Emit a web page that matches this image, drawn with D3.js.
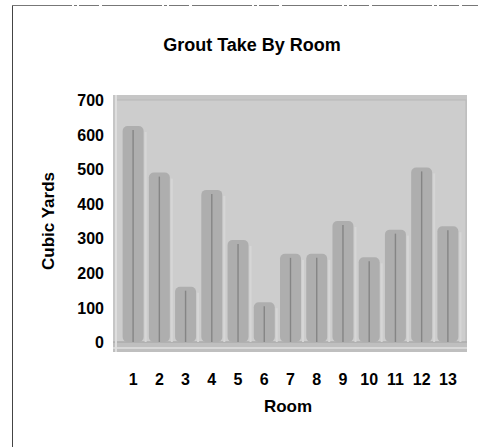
<!DOCTYPE html>
<html><head><meta charset="utf-8">
<script src="https://cdn.jsdelivr.net/npm/d3@7"></script>
<style>body{margin:0;background:#fff}text{font-family:"Liberation Sans",Arial,sans-serif;font-weight:bold;fill:#000}</style>
</head><body><svg id="c" width="478" height="447"></svg>
<script>
const rooms = ["1","2","3","4","5","6","7","8","9","10","11","12","13"];
const cubicYards = [625, 490, 160, 440, 295, 115, 255, 255, 350, 245, 325, 505, 335];
const yTicks = [0,100,200,300,400,500,600,700];
const title = "Grout Take By Room";
const xTitle = "Room";
const yTitle = "Cubic Yards";

const svg = d3.select("#c");
// outer frame
svg.append("line").attr("x1",12.5).attr("x2",12.5).attr("y1",5).attr("y2",447).attr("stroke","#444").attr("stroke-width",1);
svg.append("line").attr("x1",12).attr("x2",478).attr("y1",5.5).attr("y2",5.5).attr("stroke","#777").attr("stroke-width",1).attr("stroke-dasharray","60,2,3,2,20,3");

const x = d3.scaleBand().domain(rooms).range([120,461]).paddingInner(0.2).paddingOuter(0.1);
const y = d3.scaleLinear().domain([0,700]).range([342,100]);

// plot area
svg.append("rect").attr("x",113).attr("y",95).attr("width",354).attr("height",257).attr("fill","#c6c6c6");
svg.append("rect").attr("x",116).attr("y",y(700)).attr("width",350).attr("height",y(0)-y(700)).attr("fill","#cdcdcd").attr("stroke","#b8b8b8");
svg.append("rect").attr("x",113).attr("y",y(0)).attr("width",354).attr("height",10).attr("fill","#bfbfbf");
svg.append("line").attr("x1",113).attr("x2",467).attr("y1",y(0)).attr("y2",y(0)).attr("stroke","#a4a4a4");
svg.append("line").attr("x1",113).attr("x2",467).attr("y1",y(0)+6).attr("y2",y(0)+6).attr("stroke","#d8d8d8").attr("stroke-width",2);
svg.append("line").attr("x1",116).attr("x2",116).attr("y1",95).attr("y2",352).attr("stroke","#dedede").attr("stroke-width",2);

// bars
const g = svg.append("g");
g.selectAll("rect.bar").data(cubicYards).join("rect").attr("class","bar")
  .attr("x",(d,i)=>x(rooms[i])).attr("width",x.bandwidth())
  .attr("y",d=>y(d)).attr("height",d=>y(0)-y(d)).attr("rx",5)
  .attr("fill","#aeaeae");
g.selectAll("line.core").data(cubicYards).join("line").attr("class","core")
  .attr("x1",(d,i)=>x(rooms[i])+x.bandwidth()/2).attr("x2",(d,i)=>x(rooms[i])+x.bandwidth()/2)
  .attr("y1",d=>y(d)+4).attr("y2",y(0))
  .attr("stroke","#858585").attr("stroke-width",1.4);
g.selectAll("rect.edge").data(cubicYards).join("rect").attr("class","edge")
  .attr("x",(d,i)=>x(rooms[i])+x.bandwidth()+1).attr("width",2)
  .attr("y",d=>y(d)+6).attr("height",d=>y(0)-y(d)-6)
  .attr("fill","#d6d6d6");

// axes
const ya = d3.axisLeft(y).tickValues(yTicks).tickSize(0).tickPadding(0);
svg.append("g").attr("transform","translate(104,0)").call(ya)
  .call(s=>s.select(".domain").remove())
  .selectAll("text").style("font-size","16px").attr("font-family",null).attr("dy","0.35em");
const xa = d3.axisBottom(x).tickSize(0).tickPadding(0);
svg.append("g").attr("transform","translate(0,374)").call(xa)
  .call(s=>s.select(".domain").remove())
  .selectAll("text").style("font-size","16px").attr("font-family",null).attr("dy","0.7em");

svg.append("text").attr("x",252).attr("y",51).attr("text-anchor","middle").style("font-size","18px").text(title);
svg.append("text").attr("x",288).attr("y",412).attr("text-anchor","middle").style("font-size","17px").text(xTitle);
svg.append("text").attr("transform","translate(54,221) rotate(-90)").attr("text-anchor","middle").style("font-size","17px").text(yTitle);
</script></body></html>
